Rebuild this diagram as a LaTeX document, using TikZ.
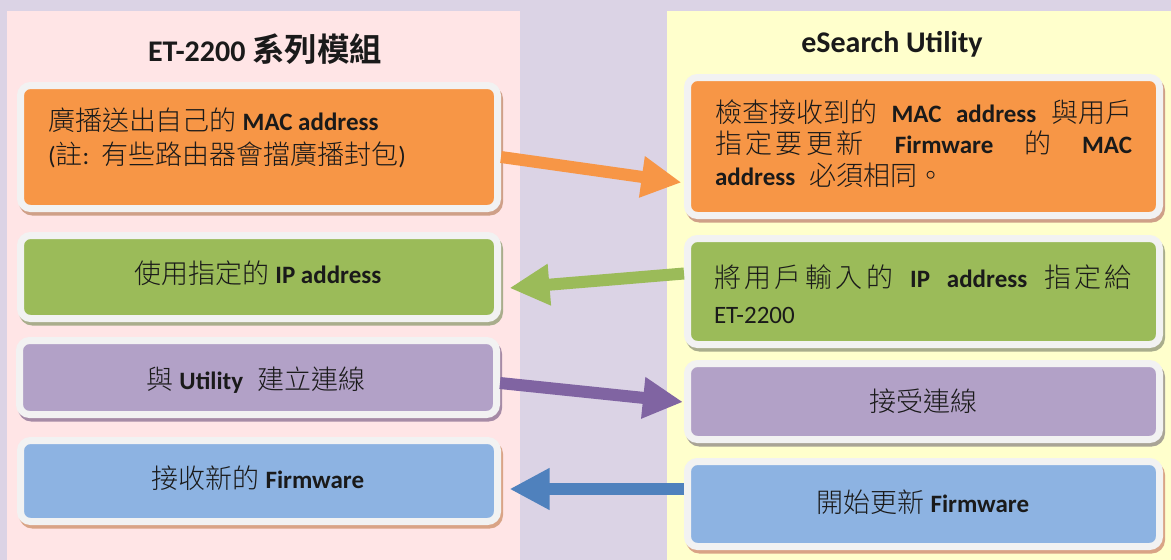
\documentclass[tikz,border=0pt]{standalone}
\usepackage{fontspec}
\setmainfont{Carlito}
\newfontfamily\cjk{Noto Sans CJK TC Light}[Scale=1.08,BoldFont={Noto Sans CJK TC Bold}]
\usetikzlibrary{arrows.meta}
\newcommand\zh[1]{{\cjk #1}}
\newcommand\gap{\hspace{6pt plus 1fil}}
\newcommand\ks{\hspace{3.5pt}}
\definecolor{bgc}{HTML}{DBD3E5}
\definecolor{pinkc}{HTML}{FFE5E6}
\definecolor{yelc}{HTML}{FFFFCC}
\definecolor{rim}{HTML}{F2F2F2}
\definecolor{textc}{HTML}{1A1A1A}
\definecolor{orc}{HTML}{F79646}
\definecolor{grc}{HTML}{9BBB59}
\definecolor{puc}{HTML}{B2A1C7}
\definecolor{blc}{HTML}{8DB3E2}
\definecolor{puarr}{HTML}{8064A2}
\definecolor{blarr}{HTML}{4F81BD}
\definecolor{shor}{HTML}{CFA088}
\definecolor{shgr}{HTML}{A9AD8C}
\definecolor{shpu}{HTML}{A68BA6}
\definecolor{shbl}{HTML}{D9A486}
\definecolor{shgrey}{HTML}{A9A496}
\tikzset{
  card/.style 2 args={rectangle, fill=#1, draw=rim, line width=7pt,
    rounded corners=10pt, outer sep=0pt, inner sep=0pt,
    preaction={fill=#2, draw=#2, line width=7pt,
      transform canvas={shift={(2pt,-3.5pt)}}}},
  txt/.style={text=textc, inner sep=0pt, outer sep=0pt},
  ttl/.style={text=textc, inner sep=0pt, font=\fontsize{30}{34}\selectfont\bfseries},
  arr/.style={draw=#1, line width=12pt, -{Triangle[length=40pt,width=39pt]}}
}
\begin{document}
\begin{tikzpicture}[x=1pt,y=-1pt,font=\fontsize{25}{30}\selectfont]
\useasboundingbox (0,0) rectangle (1171,560);
\fill[bgc] (0,0) rectangle (1171,560);
\fill[pinkc] (7,11) rectangle (520,560);
\fill[yelc] (667,11) rectangle (1171,560);

% titles
\node[ttl, anchor=base] (t1) at (265,61) {ET-2200 \zh{系列模組}};
\node[ttl, anchor=base] (t2) at (892,52) {eSearch Utility};

% left cards
\node[card={orc}{shor}, minimum width=477pt, minimum height=123pt] (L1) at (259,147) {};
\node[card={grc}{shgr}, minimum width=477pt, minimum height=83pt] (L2) at (259,277) {};
\node[card={puc}{shpu}, minimum width=477pt, minimum height=74pt] (L3) at (258,377.5) {};
\node[card={blc}{shbl}, minimum width=477pt, minimum height=81pt] (L4) at (259,481) {};

% right cards
\node[card={orc}{shor}, minimum width=472pt, minimum height=138pt] (R1) at (923.5,146.5) {};
\node[card={grc}{shgr}, minimum width=472pt, minimum height=106pt] (R2) at (923.5,291.5) {};
\node[card={puc}{shgrey}, minimum width=472pt, minimum height=76pt] (R3) at (923.5,401.5) {};
\node[card={blc}{shbl}, minimum width=472pt, minimum height=85pt] (R4) at (923.5,504) {};

% left texts
\node[txt, anchor=base west] (l1a) at (48,130) {\zh{廣播送出自己的} \textbf{MAC address}};
\node[txt, anchor=base west] (l1b) at (48,164) {(\zh{註}:\hspace{12pt}\zh{有些路由器會擋廣播封包})};
\node[txt, anchor=base] (l2) at (258,283) {\zh{使用指定的} \textbf{IP address}};
\node[txt, anchor=base] (l3) at (256,389) {\zh{與} \textbf{Utility}\hspace{14pt}\zh{建立連線}};
\node[txt, anchor=base] (l4) at (258,488) {\zh{接收新的} \textbf{Firmware}};

% right texts
\node[txt, anchor=base west] (r1a) at (715,122) {\makebox[417pt][s]{\zh{檢查接收到的}\gap\textbf{MAC}\gap\textbf{address}\gap\zh{與用戶}}};
\node[txt, anchor=base west] (r1b) at (715,153) {\makebox[417pt][s]{\zh{指\ks 定\ks 要\ks 更\ks 新}\gap\textbf{Firmware}\gap\zh{的}\gap\textbf{MAC}}};
\node[txt, anchor=base west] (r1c) at (715,185) {\textbf{address}\hspace{14pt}\zh{必須相同。}};
\node[txt, anchor=base west] (r2a) at (714,287) {\makebox[418pt][s]{\zh{將\ks 用\ks 戶\ks 輸\ks 入\ks 的}\gap\textbf{IP}\gap\textbf{address}\gap\zh{指\ks 定\ks 給}}};
\node[txt, anchor=base west] (r2b) at (714,323) {ET-2200};
\node[txt, anchor=base] (r3) at (923,411) {\zh{接受連線}};
\node[txt, anchor=base] (r4) at (923,512) {\zh{開始更新} \textbf{Firmware}};

% arrows
\draw[arr=orc] ([xshift=3.5pt,yshift=-10pt]L1.east) -- ([xshift=-6pt,yshift=-36pt]R1.west);
\draw[arr=grc] ([xshift=-3.5pt,yshift=18pt]R2.west) -- ([xshift=12pt,yshift=-11pt]L2.east);
\draw[arr=puarr] ([xshift=3.5pt,yshift=-5.5pt]L3.east) -- ([xshift=-4.5pt,yshift=-0.5pt]R3.west);
\draw[arr=blarr] ([xshift=-3.5pt,yshift=15pt]R4.west) -- ([xshift=12pt,yshift=-8pt]L4.east);
\end{tikzpicture}
\end{document}
